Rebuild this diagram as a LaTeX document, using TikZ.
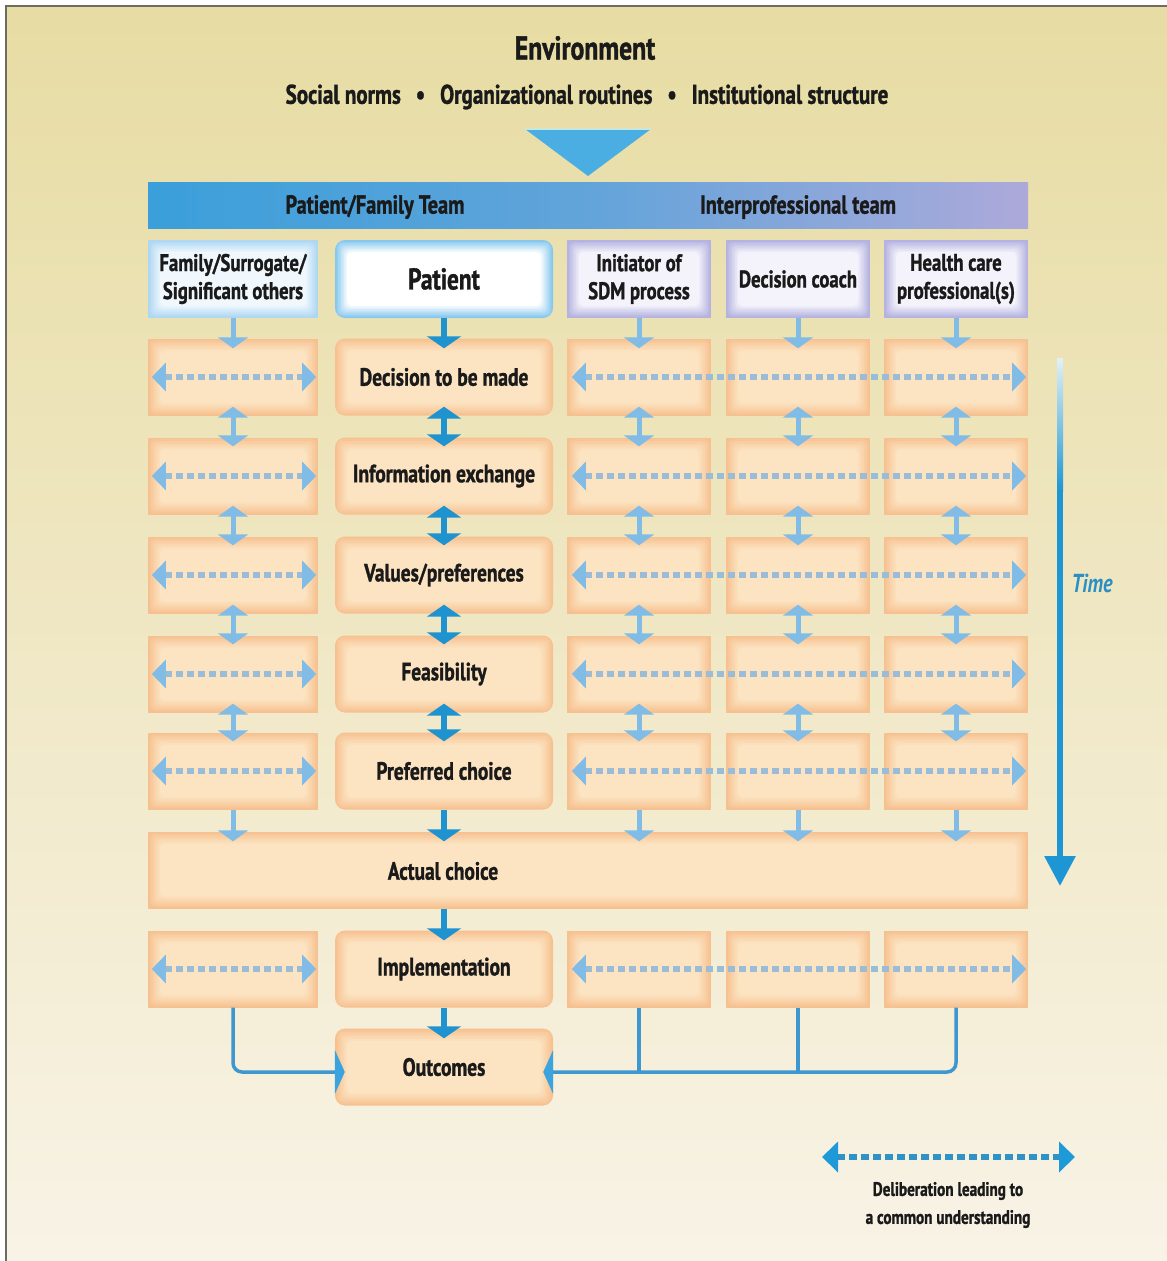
\documentclass[tikz,border=0pt]{standalone}
\usepackage{fontspec}
\setmainfont{PT Sans}[FakeStretch=0.78, BoldFeatures={FakeBold=1.2}]
\usetikzlibrary{calc,arrows.meta}
\definecolor{bgtop}{HTML}{E7DCA3}
\definecolor{bgbot}{HTML}{F8F3E6}
\definecolor{frame}{HTML}{6C6C62}
\definecolor{triblue}{HTML}{4BAEE3}
\definecolor{trihl}{HTML}{C9E6DA}
\definecolor{hbBlue}{HTML}{3A9FDA}
\definecolor{hbMid}{HTML}{62A4DA}
\definecolor{hbLav}{HTML}{ADA9DA}
\definecolor{orEdge}{HTML}{F6C190}
\definecolor{orMid}{HTML}{FCE4C2}
\definecolor{lavEdge}{HTML}{B4B2E0}
\definecolor{lavMid}{HTML}{F4F3FB}
\definecolor{lbEdge}{HTML}{ADD7F2}
\definecolor{lbMid}{HTML}{F0F8FD}
\definecolor{ptEdge}{HTML}{86C7EE}
\definecolor{darkArr}{HTML}{1E93D0}
\definecolor{lightArr}{HTML}{80BCE5}
\definecolor{dashCol}{HTML}{9BBCD6}
\definecolor{legArr}{HTML}{1E9AD8}
\definecolor{legDash}{HTML}{2F93C8}
\definecolor{connCol}{HTML}{3E97CE}
\definecolor{connTip}{HTML}{3BA3DD}
\definecolor{timeBlue}{HTML}{1E96D3}
\definecolor{timeLight}{HTML}{E2F1F5}
\definecolor{timeTxt}{HTML}{2A8FC4}
\definecolor{ink}{HTML}{1A1A1A}
\tikzset{
  pillow/.style 2 args={fill=#1, path picture={
    \foreach \k in {1,...,8}{
      \pgfmathtruncatemacro\pc{\k*12.5}
      \fill[#2!\pc!#1, rounded corners=5pt]
        ($(path picture bounding box.south west)+(\k*1.5pt,\k*1.5pt)$) rectangle
        ($(path picture bounding box.north east)-(\k*1.5pt,\k*1.5pt)$);
    }}},
  rowtxt/.style={font=\fontsize{25}{28}\selectfont\bfseries, text=ink},
  hdtxt/.style={font=\fontsize{24}{28}\selectfont\bfseries, text=ink, align=center},
  sidebox/.style={pillow={orEdge}{orMid}, minimum height=77pt, inner sep=0pt},
  patbox/.style={pillow={orEdge}{orMid}, minimum height=77pt, minimum width=218pt,
    rounded corners=10pt, inner sep=0pt, rowtxt},
  lavbox/.style={pillow={lavEdge}{lavMid}, minimum height=78pt, minimum width=144pt, inner sep=0pt, hdtxt},
  vdark/.style={draw=darkArr, line width=6pt, -{Triangle[width=34pt,length=12pt]}},
  vlight/.style={draw=lightArr, line width=5pt, -{Triangle[width=30pt,length=11pt]}},
  vbdark/.style={draw=darkArr, line width=6pt, {Triangle[width=34pt,length=12pt]}-{Triangle[width=34pt,length=12pt]}},
  vblight/.style={draw=lightArr, line width=5pt, {Triangle[width=30pt,length=11pt]}-{Triangle[width=30pt,length=11pt]}},
  delib/.style={draw=dashCol, line width=6pt, dash pattern=on 7pt off 4pt,
    {Triangle[width=28pt,length=14pt,color=lightArr]}-{Triangle[width=28pt,length=14pt,color=lightArr]}},
  conn/.style={draw=connCol, line width=3.5pt, rounded corners=9pt},
  conntip/.style={conn, -{Triangle[width=44pt,length=10pt,color=connTip]}},
}
\newcommand\myrow[3]{%
  \node[sidebox, minimum width=170pt] (r#1fam) at (233,#2) {};
  \node[patbox] (r#1pat) at (444,#2) {#3};
  \node[sidebox, minimum width=144pt] (r#1ini) at (639,#2) {};
  \node[sidebox, minimum width=144pt] (r#1dc) at (798,#2) {};
  \node[sidebox, minimum width=144pt] (r#1hcp) at (956,#2) {};
  \draw[delib] ([xshift=4pt]r#1fam.west) -- ([xshift=-2pt]r#1fam.east);
  \draw[delib] ([xshift=5pt]r#1ini.west) -- ([xshift=-2pt]r#1hcp.east);
}
\begin{document}
\begin{tikzpicture}[x=1pt,y=-1pt]
\useasboundingbox (0,0) rectangle (1167,1261);
\fill[white] (0,0) rectangle (1167,1261);
\shade[top color=bgtop, bottom color=bgbot] (6,6) rectangle (1167,1261);
\draw[frame, line width=2.5pt] (6,1261) -- (6,6) -- (1167,6);

% environment
\node[font=\fontsize{33}{36}\selectfont\bfseries, text=ink] (env) at (585,48) {Environment};
\node[font=\fontsize{27}{30}\selectfont\bfseries, text=ink] (envsub) at (587,97)
  {Social norms\hspace{0.55em}•\hspace{0.55em}Organizational routines\hspace{0.55em}•\hspace{0.55em}Institutional structure};
\fill[triblue] (525,129) -- (651,129) -- (588,176) -- cycle;
\draw[trihl, line width=2pt] (525,129) -- (651,129);

% header bar
\node[minimum width=880pt, minimum height=46pt, inner sep=0pt,
      left color=hbBlue, right color=hbLav, middle color=hbMid] (bar) at (588,205) {};
\node[font=\fontsize{26}{28}\selectfont\bfseries, text=ink] (pft) at (375,207) {Patient/Family Team};
\node[font=\fontsize{26}{28}\selectfont\bfseries, text=ink] (ipt) at (798,207) {Interprofessional team};

% column headers
\node[pillow={lbEdge}{lbMid}, minimum width=170pt, minimum height=78pt, inner sep=0pt, hdtxt] (fam) at (233,279)
  {Family/Surrogate/\\Significant others};
\node[pillow={ptEdge}{white}, minimum width=218pt, minimum height=78pt, rounded corners=10pt, inner sep=0pt,
      font=\fontsize{30}{32}\selectfont\bfseries, text=ink] (pat) at (444,279) {Patient};
\node[lavbox] (ini) at (639,279) {Initiator of\\SDM process};
\node[lavbox] (dc) at (798,279) {Decision coach};
\node[lavbox] (hcp) at (956,279) {Health care\\professional(s)};

% rows
\myrow{1}{377}{Decision to be made}
\myrow{2}{476}{Information exchange}
\myrow{3}{575}{Values/preferences}
\myrow{4}{674}{Feasibility}
\myrow{5}{771}{Preferred choice}

\node[sidebox, minimum width=880pt] (act) at (588,870) {};
\node[rowtxt] (acttxt) at (443,871) {Actual choice};

\node[sidebox, minimum width=170pt] (impfam) at (233,969) {};
\node[patbox] (imppat) at (444,969) {Implementation};
\node[sidebox, minimum width=144pt] (impini) at (639,969) {};
\node[sidebox, minimum width=144pt] (impdc) at (798,969) {};
\node[sidebox, minimum width=144pt] (imphcp) at (956,969) {};
\draw[delib] ([xshift=4pt]impfam.west) -- ([xshift=-2pt]impfam.east);
\draw[delib] ([xshift=5pt]impini.west) -- ([xshift=-2pt]imphcp.east);

\node[patbox] (outc) at (444,1067) {Outcomes};

% vertical arrows
\foreach \c in {fam,ini,dc,hcp}{
  \draw[vlight] (\c.south) -- ($(r1\c.north)+(0,-10pt)$);
  \foreach \i/\j in {1/2,2/3,3/4,4/5}{
    \draw[vblight] ($(r\i\c.south)+(0,9pt)$) -- ($(r\j\c.north)+(0,-9pt)$);
  }
  \draw[vlight] (r5\c.south) -- ($(r5\c.south |- act.north)+(0,-10pt)$);
}
\draw[vdark] (pat.south) -- ($(r1pat.north)+(0,-10pt)$);
\foreach \i/\j in {1/2,2/3,3/4,4/5}{
  \draw[vbdark] ($(r\i pat.south)+(0,9pt)$) -- ($(r\j pat.north)+(0,-9pt)$);
}
\draw[vdark] (r5pat.south) -- ($(r5pat.south |- act.north)+(0,-10pt)$);
\draw[vdark] (imppat.north |- act.south) -- ($(imppat.north)+(0,-10pt)$);
\draw[vdark] (imppat.south) -- ($(outc.north)+(0,-10pt)$);

% connectors to outcomes
\coordinate (ly) at (0,1072);
\draw[conntip] (impfam.south) |- ($(outc.west |- ly)+(10pt,0)$);
\draw[conntip] (imphcp.south) |- ($(outc.east |- ly)+(-10pt,0)$);
\draw[conn] (impini.south) -- (impini.south |- ly);
\draw[conn] (impdc.south) -- (impdc.south |- ly);

% time arrow
\coordinate (tA) at (1060,490);
\coordinate (tB) at (1060,886);
\shade[top color=timeLight, bottom color=timeBlue] (1057,358) rectangle (1063,491);
\draw[timeBlue, line width=6pt, -{Triangle[width=30pt,length=30pt]}] (tA) -- (tB);
\node[font=\fontsize{26}{28}\selectfont\bfseries\itshape, text=timeTxt] (time) at (1092,583) {Time};

% legend
\coordinate (legA) at (822,1157);
\coordinate (legB) at (1075,1157);
\draw[draw=legDash, line width=6pt, dash pattern=on 8pt off 4pt,
  {Triangle[width=30pt,length=16pt,color=legArr]}-{Triangle[width=30pt,length=16pt,color=legArr]}] (legA) -- (legB);
\node[font=\fontsize{19.5}{28}\selectfont\bfseries, text=ink, align=center] (legtxt) at (948,1205)
  {Deliberation leading to\\a common understanding};
\end{tikzpicture}
\end{document}
